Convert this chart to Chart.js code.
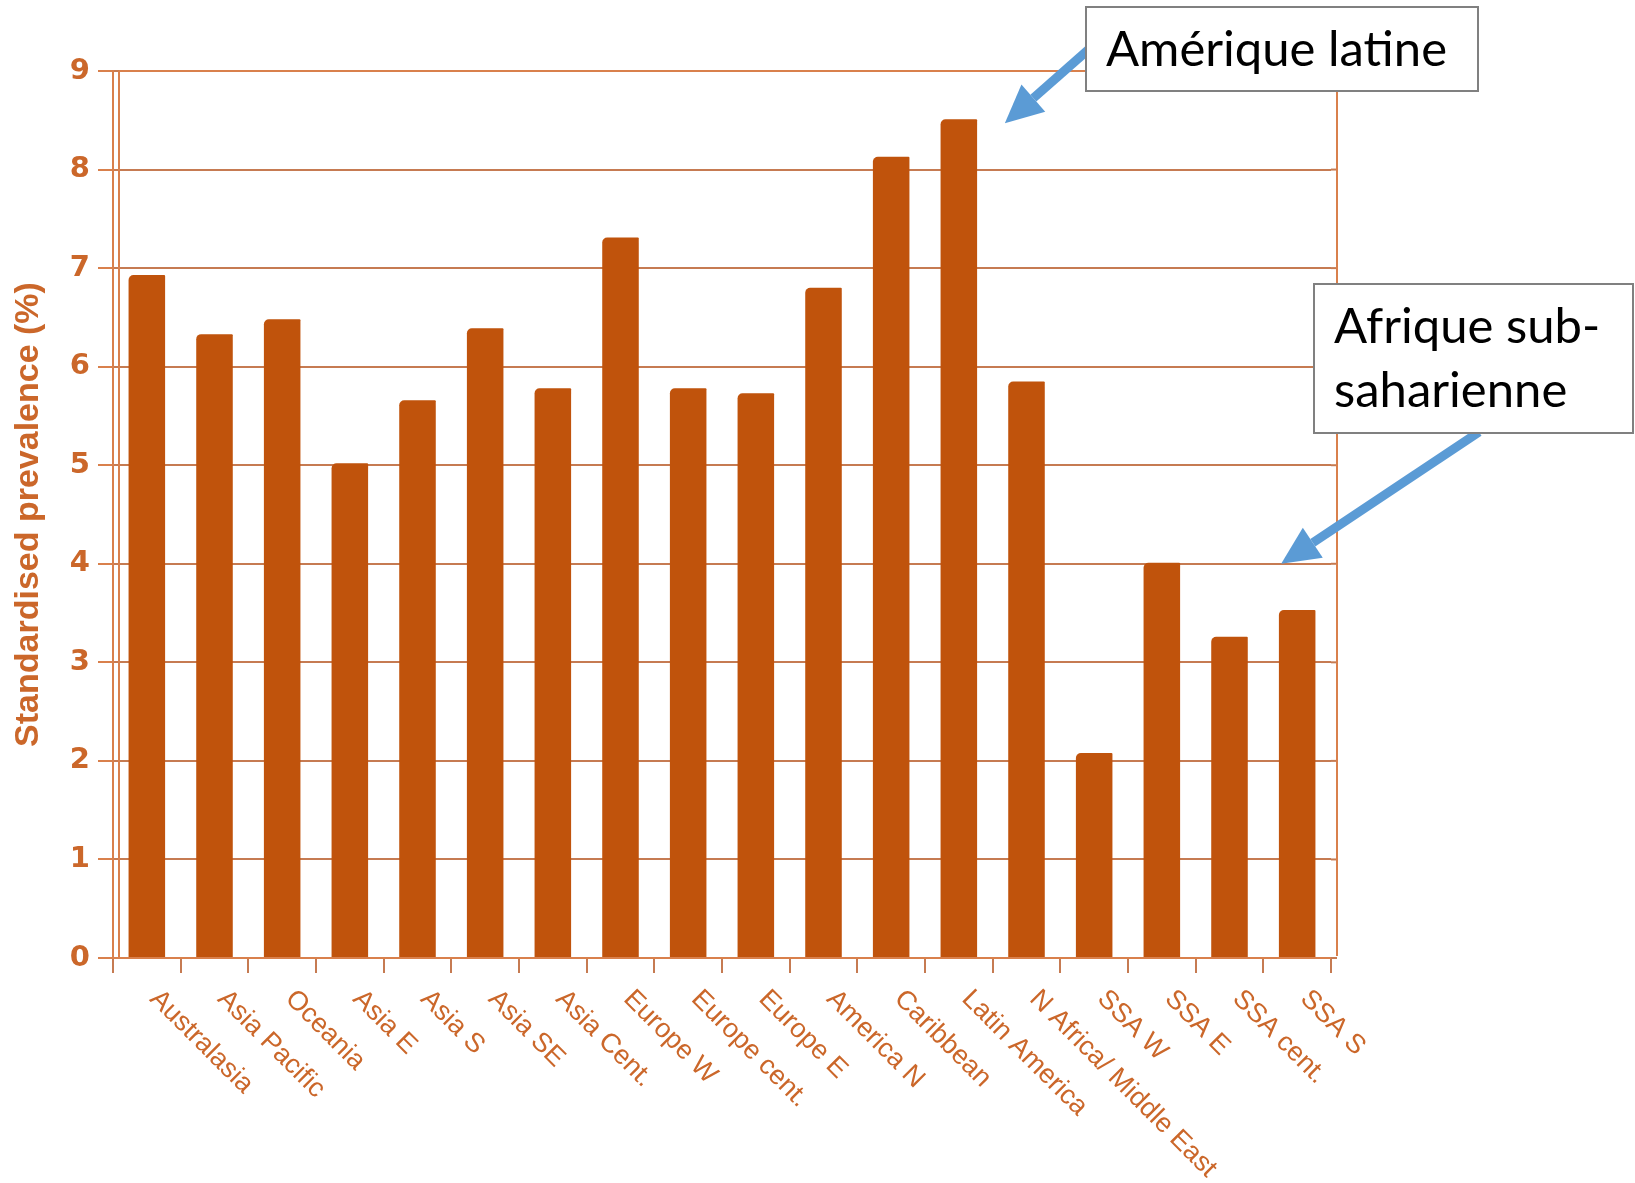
<!DOCTYPE html>
<html>
<head>
<meta charset="utf-8">
<script src="https://cdn.jsdelivr.net/npm/chart.js@4.4.1/dist/chart.umd.min.js"></script>
<style>
  html, body { margin: 0; padding: 0; background: #fff; }
</style>
</head>
<body>
<canvas id="grafico" width="1635" height="1183"></canvas>
<script>
// regioni e prevalenza standardizzata (%)
const regioni = ["Australasia", "Asia Pacific", "Oceania", "Asia E", "Asia S", "Asia SE", "Asia Cent.",
  "Europe W", "Europe cent.", "Europe E", "America N", "Caribbean", "Latin America",
  "N Africa/ Middle East", "SSA W", "SSA E", "SSA cent.", "SSA S"];
const prevalenza = [6.93, 6.33, 6.48, 5.02, 5.66, 6.39, 5.78, 7.31, 5.78, 5.73, 6.80, 8.13, 8.51,
  5.85, 2.08, 4.01, 3.26, 3.53];
const tickY = [0, 1, 2, 3, 4, 5, 6, 7, 8, 9];
const titoloY = "Standardised prevalence (%)";

// note con freccia: testo, indice della regione e valore a cui punta
const note = [["Amérique latine"], ["Afrique sub-", "saharienne"]];
const notaRegione = [12, 17];
const notaValore = [8.47, 4.0];

const arancio = "#c0530c";
const testo = "#cb672a";
const griglia = "#c67b52";
const bordo = "#d9804c";
const blu = "#5b9bd5";

// etichette inclinate sotto l'asse x
const etichette = {
  id: "etichette",
  afterDraw(chart) {
    const ctx = chart.ctx;
    const xs = chart.scales.x;
    ctx.save();
    ctx.font = '27px "Liberation Sans", Arial, sans-serif';
    ctx.fillStyle = testo;
    ctx.textAlign = "left";
    ctx.textBaseline = "alphabetic";
    regioni.forEach((nome, i) => {
      const x = xs.getPixelForValue(i);
      ctx.save();
      ctx.translate(x + 2, xs.top + 42);
      ctx.rotate(Math.PI / 4);
      ctx.fillText(nome, 0, 0);
      ctx.restore();
    });
    ctx.restore();
  }
};

// pareti del grafico (sinistra interna, destra)
const pareti = {
  id: "pareti",
  beforeDatasetsDraw(chart) {
    const ctx = chart.ctx;
    const a = chart.chartArea;
    const ys = chart.scales.y;
    ctx.save();
    ctx.strokeStyle = griglia;
    ctx.lineWidth = 2;
    tickY.forEach(v => {
      const y = ys.getPixelForValue(v);
      ctx.beginPath();
      ctx.moveTo(a.right, y);
      ctx.lineTo(a.right + 6, y);
      ctx.stroke();
    });
    ctx.strokeStyle = bordo;
    ctx.beginPath();
    ctx.moveTo(a.left + 6, a.top);
    ctx.lineTo(a.left + 6, a.bottom);
    ctx.moveTo(a.right + 6, a.top - 2);
    ctx.lineTo(a.right + 6, a.bottom - 2);
    ctx.moveTo(a.left + 6, a.top);
    ctx.lineTo(a.right + 6, a.top);
    ctx.stroke();
    ctx.restore();
  }
};

function freccia(ctx, x0, y0, x1, y1) {
  const ang = Math.atan2(y1 - y0, x1 - x0);
  const lungh = 38, larg = 18;
  const bx = x1 - Math.cos(ang) * lungh, by = y1 - Math.sin(ang) * lungh;
  ctx.beginPath();
  ctx.moveTo(x0, y0);
  ctx.lineTo(bx, by);
  ctx.stroke();
  ctx.beginPath();
  ctx.moveTo(x1, y1);
  ctx.lineTo(bx + Math.sin(ang) * larg, by - Math.cos(ang) * larg);
  ctx.lineTo(bx - Math.sin(ang) * larg, by + Math.cos(ang) * larg);
  ctx.closePath();
  ctx.fill();
}

// riquadri e frecce
const annotazioni = {
  id: "annotazioni",
  afterDraw(chart) {
    const ctx = chart.ctx;
    const xs = chart.scales.x, ys = chart.scales.y;
    const punte = [
      [xs.getPixelForValue(notaRegione[0]) + 46, ys.getPixelForValue(notaValore[0])],
      [xs.getPixelForValue(notaRegione[1]) - 16, ys.getPixelForValue(notaValore[1])]
    ];
    const riquadri = [[1086, 7, 392, 84], [1314, 284, 319, 149]];
    const partenze = [[1088, 50], [1479, 432]];
    const testoXY = [[1106, 66], [1334, 343]];

    ctx.save();
    ctx.strokeStyle = blu;
    ctx.fillStyle = blu;
    ctx.lineWidth = 9;
    punte.forEach((p, i) => freccia(ctx, partenze[i][0], partenze[i][1], p[0], p[1]));

    riquadri.forEach((r, i) => {
      ctx.fillStyle = "#fff";
      ctx.fillRect(r[0], r[1], r[2], r[3]);
      ctx.strokeStyle = "#808080";
      ctx.lineWidth = 2;
      ctx.strokeRect(r[0], r[1], r[2], r[3]);
      ctx.fillStyle = "#000";
      ctx.font = '49px Lato, "Open Sans", sans-serif';
      ctx.textAlign = "left";
      ctx.textBaseline = "alphabetic";
      note[i].forEach((riga, k) => ctx.fillText(riga, testoXY[i][0], testoXY[i][1] + k * 64));
    });
    ctx.restore();
  }
};

new Chart(document.getElementById("grafico"), {
  type: "bar",
  data: {
    labels: regioni,
    datasets: [{
      data: prevalenza,
      backgroundColor: arancio,
      borderWidth: 0,
      borderRadius: { topLeft: 5, topRight: 1, bottomLeft: 0, bottomRight: 0 },
      borderSkipped: false,
      barPercentage: 0.54,
      categoryPercentage: 1
    }]
  },
  options: {
    responsive: false,
    animation: false,
    layout: { padding: { left: 0, top: 71, right: 1635 - 1331, bottom: 0 } },
    plugins: { legend: { display: false }, tooltip: { enabled: false } },
    scales: {
      x: {
        grid: { offset: true, drawOnChartArea: false, drawTicks: true, tickLength: 15, color: griglia, lineWidth: 2 },
        border: { color: bordo, width: 2 },
        ticks: { display: false },
        afterFit: s => { s.height = 1183 - 958; }
      },
      y: {
        min: 0,
        max: 9,
        afterBuildTicks: s => { s.ticks = tickY.map(v => ({ value: v })); },
        ticks: {
          color: testo,
          padding: 8,
          font: { family: '"DejaVu Sans", sans-serif', weight: "bold", size: 29 }
        },
        grid: { color: griglia, lineWidth: 2, tickLength: 15, tickColor: bordo },
        border: { color: bordo, width: 2 },
        title: {
          display: true,
          text: titoloY,
          color: testo,
          padding: { top: 8, bottom: 0 },
          font: { family: '"Liberation Sans", Arial, sans-serif', weight: "bold", size: 34 }
        },
        afterFit: s => { s.width = 113; }
      }
    }
  },
  plugins: [pareti, etichette, annotazioni]
});
</script>
</body>
</html>
